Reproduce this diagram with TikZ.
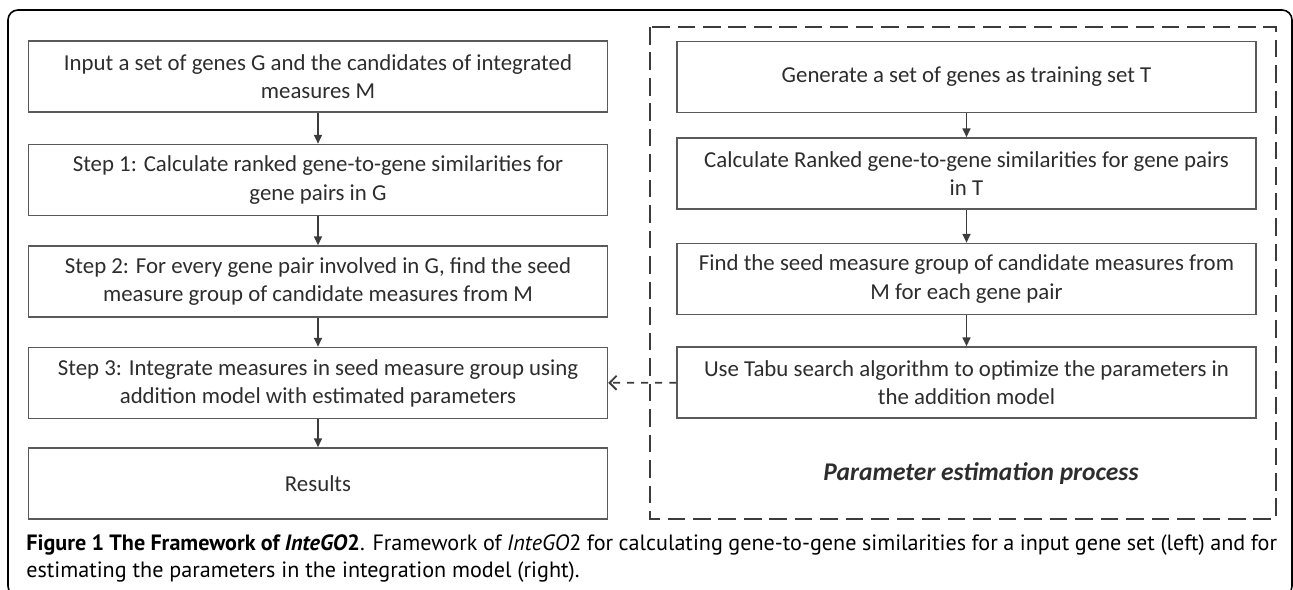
\documentclass[tikz,border=0pt]{standalone}
\usepackage{fontspec}
\setmainfont{Carlito}
\newfontfamily\captionfont{PT Sans}
\usetikzlibrary{arrows.meta,calc,positioning}
\definecolor{boxgray}{RGB}{90,90,90}
\definecolor{linegray}{RGB}{60,60,60}
\definecolor{inkgray}{RGB}{45,45,45}

\tikzset{
  stepbox/.style={draw=boxgray, line width=0.9pt, inner sep=0pt,
    minimum width=11.58cm, minimum height=1.42cm, align=center,
    text=inkgray, font=\fontsize{13}{16}\selectfont},
  flow/.style={linegray, line width=0.9pt, -{Triangle[length=5pt,width=4.5pt]}},
}

\begin{document}
\begin{tikzpicture}[x=0.02cm, y=-0.02cm]

  % page size, margins included
  \useasboundingbox (0,0) rectangle (1293,590);

  % outer frame (runs off the page at the bottom and right)
  \draw[black, line width=0.9pt, rounded corners=0.2cm]
    (8,10) rectangle (1292,596);

  % ============================================================
  % LEFT: main flow
  % ============================================================
  \node[stepbox] (input) at (318,76.5)
    {Input a set of genes G and the candidates of integrated\\measures M};
  \node[stepbox] (stepA) at (318,180)
    {Step 1: Calculate ranked gene-to-gene similarities for\\gene pairs in G};
  \node[stepbox] (stepB) at (318,281.5)
    {Step 2: For every gene pair involved in G, find the seed\\measure group of candidate measures from M};
  \node[stepbox] (stepC) at (318,383)
    {Step 3: Integrate measures in seed measure group using\\addition model with estimated parameters};
  \node[stepbox] (results) at (318,483.5) {Results};

  \foreach \a/\b in {input/stepA, stepA/stepB, stepB/stepC, stepC/results}
    \draw[flow] (\a) -- (\b);

  % ============================================================
  % RIGHT: parameter estimation process
  % ============================================================
  \draw[linegray, line width=1.1pt, dash pattern=on 10pt off 4.5pt]
    (650,27) rectangle (1276,519);

  \node[stepbox] (train) at (966.5,77)
    {\raisebox{3pt}{Generate a set of genes as training set T}};
  \node[stepbox] (rank) at (966.5,173.5)
    {Calculate Ranked gene-to-gene similarities for gene pairs\\in T};
  \node[stepbox] (seed) at (966.5,279)
    {Find the seed measure group of candidate measures from\\M for each gene pair};
  \node[stepbox] (tabu) at (966.5,382.5)
    {Use Tabu search algorithm to optimize the parameters in\\the addition model};

  \foreach \a/\b in {train/rank, rank/seed, seed/tabu}
    \draw[flow] (\a) -- (\b);

  \node[font=\fontsize{14.5}{17}\selectfont\bfseries\itshape, text=inkgray]
    (procname) at (981,474) {Parameter estimation process};

  % estimated parameters feed step 3
  \draw[linegray, line width=1.1pt, dash pattern=on 4pt off 4pt,
        -{Straight Barb[length=4pt,width=8pt]}] (tabu) -- (stepC);

  % ============================================================
  % CAPTION
  % ============================================================
  \node[anchor=north west, inner sep=0pt, text width=25.02cm, align=justify,
        font=\captionfont\fontsize{12.6}{15.4}\selectfont]
    (caption) at (26,534) {%
    \textbf{Figure 1 The Framework of \textit{InteGO}2}. Framework of
    \textit{InteGO}2 for calculating gene-to-gene similarities for a input
    gene set (left) and for\linebreak estimating the parameters in the
    integration model (right).};

\end{tikzpicture}
\end{document}
